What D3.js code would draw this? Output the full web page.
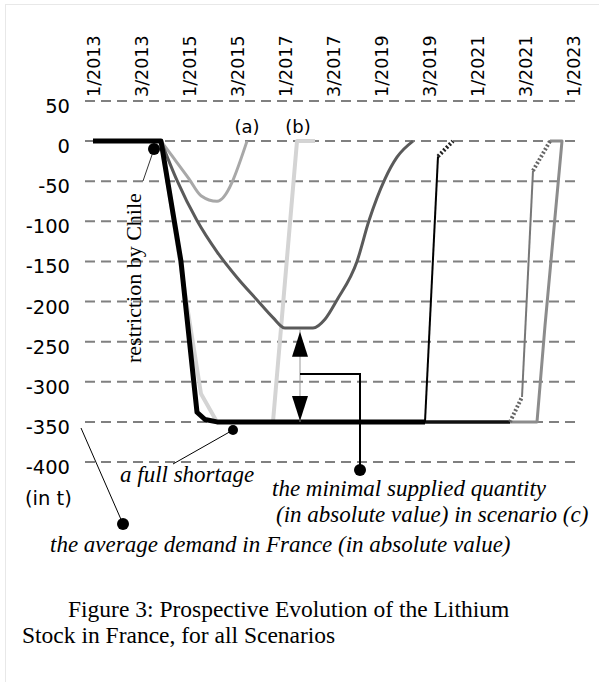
<!DOCTYPE html>
<html>
<head>
  <title>Lithium Stock in France</title>
  <script src="https://d3js.org/d3.v7.min.js"></script>
  <style>
    body { margin: 0; background: #fff; }
  </style>
</head>
<body>
  <div id="chart"></div>

  <script>
    // x is a month index, one tick label every 12 months
    var xLabels = ["1/2013", "3/2013", "1/2015", "3/2015", "1/2017", "3/2017", "1/2019", "3/2019", "1/2021", "3/2021", "1/2023"];
    var yTicks = [50, 0, -50, -100, -150, -200, -250, -300, -350, -400];

    // full shortage (thick black)
    var baseT = [0, 17, 22, 26, 28, 31, 83];
    var baseV = [0, 0, -150, -338, -347, -350, -350];
    // scenario (a)
    var aT = [17, 20, 24, 27, 31, 38.5];
    var aV = [0, -20, -47, -68, -75, 0];
    // scenario (b)
    var bT = [17, 27, 31, 45, 51, 55.5];
    var bV = [0, -315, -350, -350, 0, 0];
    // scenario (c)
    var cT = [17, 21, 26, 31, 36, 41, 45, 48, 55, 58, 61, 66, 69, 73, 76, 80];
    var cV = [0, -49, -99, -138, -170, -198, -220, -233, -233, -222, -198, -150, -99, -47, -20, 0];
    // scenario (d)
    var dT = [83, 86.25];
    var dV = [-350, -19];
    var dHatchT = [86.25, 90];
    var dHatchV = [-19, 0];
    // scenario (e)
    var eFlatT = [83, 104.25];
    var eFlatV = [-350, -350];
    var eHatch1T = [104.25, 107.25];
    var eHatch1V = [-350, -319];
    var eT = [107.25, 110];
    var eV = [-319, -37];
    var eHatch2T = [110, 114.25];
    var eHatch2V = [-37, 0];
    // scenario (f)
    var fT = [104.25, 111, 113, 117.25, 114.25];
    var fV = [-350, -350, -230, 0, 0];

    var width = 599, height = 682;

    var svg = d3.select("#chart")
      .append("svg")
      .attr("width", width)
      .attr("height", height);

    // faint page frame
    svg.append("rect")
      .attr("x", 5.5).attr("y", 4.5)
      .attr("width", 700).attr("height", 800)
      .attr("fill", "none")
      .attr("stroke", "#e8e8e8");

    var x = d3.scaleLinear().domain([0, 120]).range([93, 573]);
    var y = d3.scaleLinear().domain([-400, 50]).range([462, 101]);

    // dashed grid
    svg.selectAll(".grid")
      .data(yTicks)
      .enter().append("line")
      .attr("x1", 85).attr("x2", 580)
      .attr("y1", function(d) { return y(d); })
      .attr("y2", function(d) { return y(d); })
      .attr("stroke", "#808080")
      .attr("stroke-width", 2)
      .attr("stroke-dasharray", "10,6");

    svg.selectAll(".ylab")
      .data(yTicks)
      .enter().append("text")
      .attr("x", 70)
      .attr("y", function(d) { return y(d) + 12; })
      .attr("text-anchor", "end")
      .style("font-family", "DejaVu Sans")
      .style("font-size", "19.5px")
      .text(function(d) { return d; });

    svg.selectAll(".xlab")
      .data(xLabels)
      .enter().append("text")
      .attr("transform", function(d, i) { return "translate(" + (x(i * 12) + 7) + ",97) rotate(-90)"; })
      .attr("text-anchor", "start")
      .style("font-family", "DejaVu Sans")
      .style("font-size", "17.5px")
      .text(function(d) { return d; });

    svg.append("text")
      .attr("x", 25).attr("y", 505)
      .style("font-family", "DejaVu Sans")
      .style("font-size", "19.5px")
      .text("(in t)");

    function pts(ts, vs) {
      return ts.map(function(t, i) { return [t, vs[i]]; });
    }

    var lin = d3.line().x(function(d) { return x(d[0]); }).y(function(d) { return y(d[1]); });
    var smooth = d3.line().curve(d3.curveMonotoneX)
      .x(function(d) { return x(d[0]); }).y(function(d) { return y(d[1]); });

    var series = [
      { p: pts(bT, bV), gen: lin, color: "#d4d4d4", w: 4 },
      { p: pts(aT, aV), gen: smooth, color: "#a8a8a8", w: 3 },
      { p: pts(cT, cV), gen: smooth, color: "#5a5a5a", w: 3 },
      { p: pts(fT, fV), gen: lin, color: "#8c8c8c", w: 3 },
      { p: pts(eFlatT, eFlatV), gen: lin, color: "#111", w: 3.5 },
      { p: pts(eHatch1T, eHatch1V), gen: lin, color: "#666", w: 4, dash: "2,2" },
      { p: pts(eT, eV), gen: lin, color: "#777", w: 2 },
      { p: pts(eHatch2T, eHatch2V), gen: lin, color: "#666", w: 4, dash: "2,2" },
      { p: pts(dT, dV), gen: lin, color: "#000", w: 2 },
      { p: pts(dHatchT, dHatchV), gen: lin, color: "#222", w: 4, dash: "2,2" },
      { p: pts(baseT, baseV), gen: lin, color: "#000", w: 5 }
    ];

    series.forEach(function(s) {
      svg.append("path")
        .attr("d", s.gen(s.p))
        .attr("fill", "none")
        .attr("stroke", s.color)
        .attr("stroke-width", s.w)
        .attr("stroke-linejoin", "round")
        .attr("stroke-dasharray", s.dash || null);
    });

    svg.append("text").attr("x", x(38.5)).attr("y", 133)
      .attr("text-anchor", "middle")
      .style("font-family", "DejaVu Sans").style("font-size", "18px")
      .text("(a)");
    svg.append("text").attr("x", x(51.25)).attr("y", 133)
      .attr("text-anchor", "middle")
      .style("font-family", "DejaVu Sans").style("font-size", "18px")
      .text("(b)");

    // annotations
    var serif = "Liberation Serif, Times New Roman, serif";

    svg.append("line").attr("x1", 154).attr("y1", 149).attr("x2", 143).attr("y2", 181)
      .attr("stroke", "#333").attr("stroke-width", 1);
    svg.append("circle").attr("cx", 154).attr("cy", 149).attr("r", 6).attr("fill", "#000");
    svg.append("text")
      .attr("transform", "translate(141,363) rotate(-90)")
      .style("font-family", serif).style("font-size", "22px")
      .text("restriction by Chile");

    svg.append("line").attr("x1", 233).attr("y1", 430).attr("x2", 173).attr("y2", 464)
      .attr("stroke", "#000").attr("stroke-width", 1);
    svg.append("circle").attr("cx", 233).attr("cy", 430).attr("r", 5).attr("fill", "#000");
    svg.append("text").attr("x", 120).attr("y", 482)
      .style("font-family", serif).style("font-style", "italic").style("font-size", "23px")
      .text("a full shortage");

    svg.append("line").attr("x1", 81).attr("y1", 428).attr("x2", 123).attr("y2", 524)
      .attr("stroke", "#000").attr("stroke-width", 1);
    svg.append("circle").attr("cx", 123).attr("cy", 524).attr("r", 6).attr("fill", "#000");
    svg.append("text").attr("x", 50).attr("y", 552)
      .style("font-family", serif).style("font-style", "italic").style("font-size", "23px")
      .text("the average demand in France (in absolute value)");

    // double arrow between minimum of (c) and the full shortage
    var ax = x(51.75);
    svg.append("line").attr("x1", ax).attr("x2", ax)
      .attr("y1", y(-235)).attr("y2", y(-350))
      .attr("stroke", "#999").attr("stroke-width", 1);
    svg.append("path")
      .attr("d", "M" + ax + "," + (y(-235) + 2) + "L" + (ax - 8) + "," + (y(-235) + 27) + "L" + (ax + 8) + "," + (y(-235) + 27) + "Z")
      .attr("fill", "#000");
    svg.append("path")
      .attr("d", "M" + ax + "," + (y(-350) - 1) + "L" + (ax - 8) + "," + (y(-350) - 26) + "L" + (ax + 8) + "," + (y(-350) - 26) + "Z")
      .attr("fill", "#000");
    svg.append("path")
      .attr("d", "M" + ax + ",374 L360,374 L360,470")
      .attr("fill", "none").attr("stroke", "#000").attr("stroke-width", 2);
    svg.append("circle").attr("cx", 360).attr("cy", 470).attr("r", 6).attr("fill", "#000");
    svg.append("text").attr("x", 272).attr("y", 496)
      .style("font-family", serif).style("font-style", "italic").style("font-size", "23px")
      .text("the minimal supplied quantity");
    svg.append("text").attr("x", 276).attr("y", 522)
      .style("font-family", serif).style("font-style", "italic").style("font-size", "23px")
      .text("(in absolute value) in scenario (c)");

    // caption
    svg.append("text").attr("x", 68).attr("y", 617)
      .style("font-family", serif).style("font-size", "23.5px")
      .text("Figure 3: Prospective Evolution of the Lithium");
    svg.append("text").attr("x", 22).attr("y", 643)
      .style("font-family", serif).style("font-size", "23.5px")
      .text("Stock in France, for all Scenarios");
  </script>
</body>
</html>
